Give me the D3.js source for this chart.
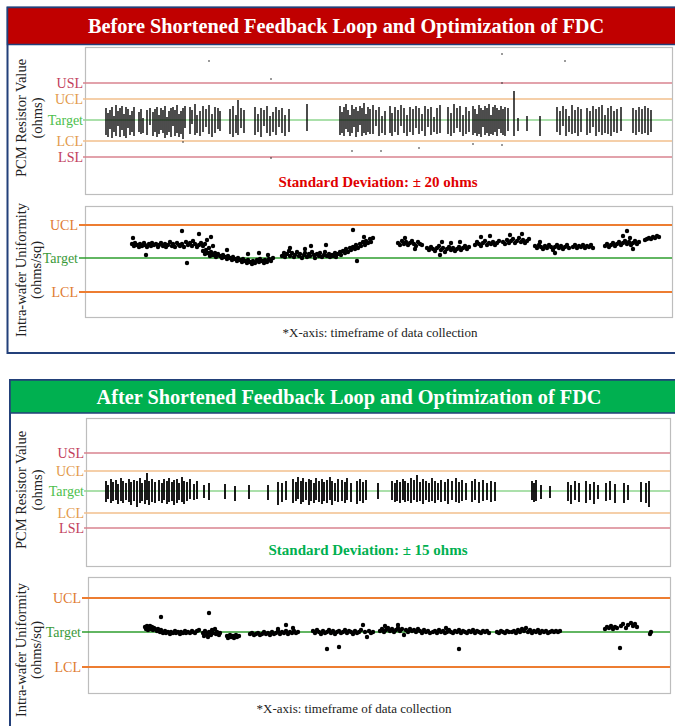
<!DOCTYPE html>
<html><head><meta charset="utf-8">
<script src="https://cdn.jsdelivr.net/npm/d3@7"></script>
<style>body{margin:0;background:#fff}svg{display:block}text{font-family:"Liberation Serif","Times New Roman",serif}</style>
</head><body><svg id="c" width="675" height="726"></svg>
<script>
// ---------- DATA ----------
const titles = ["Before Shortened Feedback Loop and Optimization of FDC","After Shortened Feedback Loop and Optimization of FDC"];
const stdTexts = ["Standard Deviation: \u00b1 20 ohms","Standard Deviation: \u00b1 15 ohms"];
const yTitlePCM = ["PCM Resistor Value","(ohms)"];
const yTitleUni = ["Intra-wafer Uniformity","(ohms/sq)"];
const footnote = "*X-axis: timeframe of data collection";
const pcmLimitLabels = ["USL","UCL","Target","LCL","LSL"];
const uniLimitLabels = ["UCL","Target","LCL"];
// limit values (offset from target)
const pcmLimitsBefore = [37, 21, 0, -21, -37];
const pcmLimitsAfter = [38, 20, 0, -22, -37];
const uniLimitsBefore = [33, 0, -34];
const uniLimitsAfter = [34, 0, -35];
// PCM resistor: [sample, high, low]
const pcmBefore = [
[21,12,-15],[23,7,-17],[25,10,-9],[27,13,-18],[29,4,-12],[31,15,-16],[33,9,-6],[35,12,-17],[37,14,-10],[39,6,-16],[41,13,-18],[43,11,-8],[45,5,-15],[47,9,-12],[49,13,-16],
[54,8,-12],[56,11,-14],[58,2,-13],[62,10,-15],[65,12,-5],[68,8,-16],[70,11,-12],
[72,13,-17],[74,5,-14],[76,12,-10],[78,10,-13],[80,14,-18],[82,3,-15],[84,9,-12],[86,12,-17],[88,13,-6],[90,10,-16],[92,15,-13],[94,6,-17],[96,9,-14],[98,12,-19],[100,14,-8],
[105,13,-14],[107,10,-4],[110,16,-15],[112,5,-13],[115,9,-16],[118,14,-12],[121,11,-7],[124,15,-14],[127,6,-17],[130,13,-13],[133,12,-9],[135,9,-11],
[145,11,-14],[148,14,-17],[151,5,-13],[153,20,-15],[156,12,-8],[159,10,-13],
[170,13,-15],[173,6,-12],[176,12,-17],[179,10,-6],[182,14,-13],[185,4,-16],[188,8,-12],[191,13,-15],[194,10,-7],[197,12,-13],[200,5,-16],[204,11,-12],
[222,16,-11],
[255,14,-15],[257,8,-13],[259,13,-16],[261,16,-9],[263,10,-12],[265,5,-16],[267,15,-13],[269,11,-7],[271,13,-17],[273,9,-12],[275,14,-5],[277,12,-16],[279,17,-13],[281,6,-15],[283,13,-12],[285,11,-14],
[288,15,-14],[291,10,-6],[294,13,-16],[297,4,-13],[300,9,-15],
[305,14,-13],[307,7,-16],[310,13,-12],[313,10,-15],[316,15,-6],[319,12,-13],[322,5,-16],[325,13,-12],[328,11,-15],[331,14,-8],
[334,12,-14],[337,6,-11],[340,14,-16],[343,11,-7],[346,13,-15],[349,3,-12],[352,12,-14],[355,15,-13],
[363,13,-14],[366,7,-16],[369,16,-13],[372,12,-8],[375,14,-12],[378,5,-16],[381,13,-14],[384,9,-12],
[388,14,-15],[390,11,-13],[392,6,-16],[394,15,-14],[396,12,-17],[398,10,-7],[400,14,-15],[402,12,-13],[404,16,-16],[406,5,-14],[408,13,-15],[410,15,-12],[412,12,-16],[414,10,-9],[416,14,-13],[418,11,-15],[420,13,-16],[423,12,-11],
[429,29,-16],[433,2,-11],[442,4,-11],[455,4,-16],
[472,13,-12],[475,9,-15],[478,14,-6],[481,11,-16],[484,4,-12],[487,15,-14],[490,10,-13],[493,13,-16],[496,11,-12],
[502,12,-15],[505,9,-13],[508,14,-7],[511,11,-16],[514,13,-12],[517,15,-15],[520,5,-13],[523,12,-14],[526,14,-16],[529,9,-12],[532,11,-13],[536,13,-11],
[548,12,-13],[551,10,-15],[554,13,-12],[557,11,-14],[560,14,-13],[563,12,-15],[566,10,-12]
];
const pcmBeforeOutliers = [[124,59],[186,41],[98,-22],[186,-38],[417,66],[480,59],[417,37],[267,-31],[296,-31],[334,-28],[388,-24],[417,-25]];
const pcmAfter = [
[21,10,-11],[23,6,-8],[26,12,-12],[28,9,-10],[31,11,-9],[33,7,-13],[36,13,-10],[38,10,-12],[41,8,-9],[44,12,-11],[46,9,-14],[49,11,-10],[52,10,-16],[55,13,-12],[57,8,-10],[60,11,-13],[62,18,-9],[64,10,-14],[67,12,-11],[70,9,-12],
[74,11,-10],[77,8,-12],[79,12,-9],[82,10,-13],[84,13,-11],[87,9,-10],[89,11,-14],[92,12,-12],[94,8,-9],[97,14,-11],[99,10,-13],[102,9,-10],[105,12,-8],[109,7,-9],[112,10,-8],
[119,6,-7],[124,8,-9],[140,7,-8],[150,5,-10],[164,6,-8],
[183,6,-9],[193,9,-14],[197,8,-11],[201,10,-9],
[208,12,-12],[211,9,-10],[213,14,-8],[216,10,-13],[218,13,-11],[221,9,-9],[224,12,-14],[226,11,-10],[229,8,-12],[231,13,-9],[234,10,-11],[237,12,-13],[239,9,-10],[242,11,-12],[245,14,-9],[247,10,-14],[250,8,-10],[253,12,-11],
[257,11,-10],[260,9,-12],[262,13,-9],[266,8,-11],[272,10,-13],[275,12,-10],[278,9,-12],[281,11,-9],[293,8,-8],
[307,10,-9],[310,8,-11],[312,11,-10],[315,9,-12],[318,12,-9],[320,10,-11],[323,8,-10],[326,13,-12],[329,11,-9],[332,16,-11],[335,9,-10],[338,12,-13],[341,10,-9],[344,8,-11],
[347,13,-10],[350,10,-12],[353,8,-9],[356,11,-11],[360,9,-10],[363,12,-13],[367,10,-9],[371,13,-11],[374,9,-12],[377,11,-10],[381,8,-9],
[387,10,-11],[390,12,-9],[394,9,-12],[398,11,-10],[402,8,-9],[406,10,-11],[410,9,-10],
[447,10,-9],[449,8,-11],[451,11,-10],[456,6,-8],[465,5,-7],
[483,9,-10],[486,6,-13],[490,10,-9],[494,8,-11],
[501,10,-12],[505,7,-9],[509,9,-13],[513,6,-8],
[521,8,-10],[525,10,-9],[530,7,-12],[539,8,-12],[543,6,-9],
[556,9,-11],[561,8,-12],[564,10,-16]
];
// Intra-wafer uniformity: [sample, value]
const uniBefore = [
[47,14],[49,12],[50,15],[52,13],[54,11],[55,14],[57,12],[59,15],[60,13],[62,11],[64,14],[66,12],[67,15],[69,13],[71,14],[73,11],[74,13],[76,15],[78,12],[80,14],[81,11],[83,13],[85,16],[87,12],[88,14],[90,11],[92,15],[94,13],[95,12],[97,14],[99,11],[101,16],[103,13],[105,15],[107,12],[108,17],[110,14],[112,11],[114,13],[116,15],[118,12],
[48,20],[61,3],[97,27],[102,-5],[114,24],[126,21],[122,18],[120,14],[124,10],
[118,7],[120,4],[121,8],[123,5],[125,2],[126,6],[128,3],[130,5],[131,1],[133,4],[135,2],[137,0],[138,3],[140,1],[142,-1],[143,2],[145,0],[147,-2],[148,1],[150,-1],[152,-3],[153,0],[155,-2],[157,-4],[158,-1],[160,-3],[162,-5],[163,-2],[165,-4],[167,-6],[168,-3],[170,-5],[172,-2],[174,-4],[175,-1],[177,-3],[179,-5],[180,-2],[182,-4],[184,-1],[186,-3],[188,0],
[128,12],[142,8],[163,4],[174,5],[183,3],
[197,2],[199,5],[200,1],[202,4],[204,7],[205,2],[207,5],[209,1],[210,3],[212,6],[214,2],[215,4],[217,0],[219,3],[220,5],[222,1],[224,4],[225,2],[227,6],[229,3],[230,0],[232,4],[234,2],[235,5],[237,1],[239,3],[240,6],[242,2],[244,4],[245,1],[247,3],
[205,10],[226,12],[241,13],[220,9],
[248,2],[250,5],[251,1],[253,4],[255,6],[256,3],[258,7],[260,5],[261,9],[263,6],[265,10],[266,8],[268,11],[270,9],[271,13],[273,10],[275,14],[276,12],[278,16],[280,13],[281,17],[283,15],[285,19],[286,16],[288,20],
[268,28],[272,-3],[279,21],
[313,15],[315,13],[317,17],[319,14],[321,16],[323,13],[325,15],[327,17],[329,14],[331,12],[333,16],[335,14],[337,13],[320,20],[330,9],
[342,10],[344,8],[346,11],[348,9],[350,7],[352,10],[354,12],[356,8],[358,10],[360,6],[362,9],[364,11],[366,8],[368,10],[370,7],[372,9],[374,11],[376,8],[378,10],[380,12],[382,9],[384,11],
[357,16],[366,15],[375,16],[355,3],
[390,13],[392,16],[394,14],[396,12],[398,15],[400,17],[402,13],[404,15],[406,14],[408,16],[410,13],[412,15],[414,17],[396,21],[405,22],
[418,16],[420,14],[422,18],[424,15],[426,17],[428,19],[430,15],[432,17],[434,20],[436,16],[438,18],[440,15],[442,17],[444,19],[425,23],[437,24],
[450,12],[452,10],[454,13],[456,11],[458,9],[460,12],[462,10],[464,13],[466,11],[468,8],[470,11],[472,13],[474,10],[476,12],[478,9],[480,11],[482,13],[484,10],[455,16],[470,5],
[488,11],[490,13],[492,10],[494,12],[496,11],[498,13],[500,10],[502,12],[504,11],[506,13],[508,10],
[520,12],[522,14],[524,11],[526,13],[528,15],[530,12],[532,14],[534,16],[536,13],[538,15],[540,17],[542,14],[544,16],[546,13],[548,15],[550,17],[552,14],[554,16],
[538,22],[542,27],[548,9],[545,20],
[560,18],[562,19],[564,20],[566,19],[568,21],[570,20],[572,22],[574,21]
];
const uniAfter = [
[60,5],[61,3],[62,6],[63,2],[64,4],[65,6],[66,3],[67,5],[68,2],[69,4],[70,3],[72,1],[73,3],[75,0],[76,2],[78,-1],[80,1],[81,-1],[83,0],[85,-2],[86,0],[88,-1],[90,1],[91,-1],[93,0],[95,-2],[96,0],[98,-1],[100,1],[101,-1],[103,0],[105,-1],[107,1],[108,0],[110,-1],[112,1],[114,2],
[76,15],[124,19],
[118,-1],[119,-4],[120,1],[122,-2],[123,-5],[124,0],[126,-3],[127,2],[128,-1],[130,3],[131,-2],[132,0],[134,-3],[135,-1],
[142,-4],[143,-6],[145,-3],[146,-5],[148,-4],[149,-6],[151,-3],[152,-5],[154,-4],
[165,-2],[167,-1],[169,-3],[171,-2],[173,-1],[175,-3],[177,-2],[179,0],[181,-2],[183,-1],[185,-3],[187,0],[189,-2],[191,-1],[193,1],[195,-2],[197,0],[199,-1],[201,1],[203,-2],[205,0],[207,-1],[209,1],[211,-1],[213,0],
[201,7],[193,3],[208,4],
[228,1],[230,-1],[232,2],[234,0],[236,-2],[238,1],[240,-1],[242,0],[244,2],[246,-1],[248,1],[250,-2],[252,0],[254,1],[256,-1],[258,0],[260,2],[262,-1],[264,1],[266,0],[268,-2],[270,1],[272,-1],[274,0],[276,2],[278,7],[280,0],[282,-5],[284,1],[286,-1],[288,0],
[242,-17],[254,-15],
[295,1],[297,3],[299,0],[301,2],[303,4],[305,1],[307,3],[309,0],[311,2],[313,4],[315,1],[317,3],[319,-3],[321,2],[323,0],[325,3],[327,1],[329,2],[331,0],[333,3],[335,1],[337,-1],[339,2],[341,0],[343,1],[345,-1],
[300,6],[313,7],
[348,0],[350,1],[352,-1],[354,2],[356,0],[358,1],[360,-1],[362,0],[364,2],[366,0],[368,-1],[370,1],[372,0],[374,2],[376,-1],[378,1],[380,0],[382,-1],[384,1],[386,0],[388,2],[390,-1],[392,1],[394,0],[396,-1],[398,1],[400,0],[402,1],[404,-1],
[374,-17],[361,4],
[412,0],[414,-1],[416,1],[418,0],[420,-1],[422,1],[424,0],
[427,0],[429,1],[431,-1],[433,2],[435,0],[437,3],[439,1],[441,4],[443,0],[445,2],[447,-1],[449,1],[451,0],[453,2],[455,-1],[457,1],[459,0],[461,1],[463,-1],[465,0],[467,1],[469,0],[471,1],[473,0],[475,1],
[520,3],[522,5],[524,4],[526,6],[528,3],[530,5],[532,4],[536,6],[538,8],[541,4],[543,7],[546,9],[548,6],[550,8],[552,5],
[565,-2],[566,0],[535,-16]
];

// ---------- DRAW ----------
const svg = d3.select("#c");
const navy = "#23407a";
const x = d3.scaleLinear().domain([0,584]).range([85,669]);

function panelFrame(y0, y1, x0, color, title, tx, ty){
  svg.append("rect").attr("x",x0).attr("y",y0).attr("width",675-x0+2).attr("height",y1-y0)
    .attr("fill","#fff").attr("stroke",navy).attr("stroke-width",2);
  svg.append("rect").attr("x",x0).attr("y",y0).attr("width",675-x0+2).attr("height",ty)
    .attr("fill",color).attr("stroke",navy).attr("stroke-width",1.5);
  svg.append("text").attr("x",tx).attr("y",y0+ty/2+7).attr("text-anchor","middle")
    .attr("fill","#fff").attr("font-weight","bold").attr("font-size",20.3).text(title);
}
panelFrame(7.5, 353, 7.5, "#c00000", titles[0], 346, 37);
panelFrame(380, 740, 10, "#00b050", titles[1], 349, 33);

function yTitle(lines, cy, x1, x2){
  svg.append("text").attr("transform",`translate(${x1},${cy}) rotate(-90)`).attr("text-anchor","middle")
    .attr("font-size",14.5).attr("fill","#222").text(lines[0]);
  svg.append("text").attr("transform",`translate(${x2},${cy}) rotate(-90)`).attr("text-anchor","middle")
    .attr("font-size",14.5).attr("fill","#222").text(lines[1]);
}

function box(b){
  svg.append("rect").attr("x",b.l+0.5).attr("y",b.t+0.5).attr("width",b.r-b.l).attr("height",b.b-b.t)
    .attr("fill","#fff").attr("stroke","#bdbdbd").attr("stroke-width",1.2);
}

const pcmLineColors = ["#d9838f","#f2bf8c","#8fd68f","#f2bf8c","#d9838f"];
const pcmLabelColors = ["#c2405c","#e39a4c","#4cc04c","#e39a4c","#c2405c"];
function pcmPanel(b, dom, limits, bars, outliers, sw){
  box(b);
  const y = d3.scaleLinear().domain(dom).range([b.b,b.t]);
  const g = svg.append("g");
  limits.forEach((v,i)=>{
    g.append("line").attr("x1",b.l-2).attr("x2",b.r).attr("y1",y(v)).attr("y2",y(v))
      .attr("stroke",pcmLineColors[i]).attr("stroke-width",1.6);
    g.append("text").attr("x",b.l-2).attr("y",y(v)+5).attr("text-anchor","end").attr("font-size",14)
      .attr("fill",pcmLabelColors[i]).text(pcmLimitLabels[i]);
  });
  g.selectAll("line.bar").data(bars).join("line").attr("class","bar")
    .attr("x1",d=>x(d[0])).attr("x2",d=>x(d[0])).attr("y1",d=>y(d[1])).attr("y2",d=>y(d[2]))
    .attr("stroke","#000").attr("stroke-width",sw);
  if(outliers) g.selectAll("rect.o").data(outliers).join("rect").attr("class","o")
    .attr("x",d=>x(d[0])-0.7).attr("y",d=>y(d[1])-0.7).attr("width",1.4).attr("height",1.4).attr("fill","#333");
  return y;
}
function uniPanel(b, dom, limits, pts){
  box(b);
  const y = d3.scaleLinear().domain(dom).range([b.b,b.t]);
  const g = svg.append("g");
  const lc = ["#ed7d31","#2e9e2e","#ed7d31"];
  const tc = ["#e07a30","#3a9a3a","#e07a30"];
  limits.forEach((v,i)=>{
    g.append("line").attr("x1",b.l-6).attr("x2",b.r).attr("y1",y(v)).attr("y2",y(v))
      .attr("stroke",lc[i]).attr("stroke-width",i===1?1.5:2);
    g.append("text").attr("x",b.l-7).attr("y",y(v)+5).attr("text-anchor","end").attr("font-size",14)
      .attr("fill",tc[i]).text(uniLimitLabels[i]);
  });
  g.selectAll("circle").data(pts).join("circle")
    .attr("cx",d=>x(d[0])).attr("cy",d=>y(d[1])).attr("r",2.2).attr("fill","#000");
}

// Before
const b1 = {l:85,t:47,r:672,b:194};
pcmPanel(b1, [-74,73], pcmLimitsBefore, pcmBefore, pcmBeforeOutliers, 1.4);
svg.append("text").attr("x",378).attr("y",187).attr("text-anchor","middle").attr("font-size",15)
  .attr("font-weight","bold").attr("fill","#e00000").text(stdTexts[0]);
yTitle(yTitlePCM, 118, 26, 42);
const b2 = {l:85,t:206,r:672,b:317};
uniPanel(b2, [-59,52], uniLimitsBefore, uniBefore);
yTitle(yTitleUni, 270, 26, 41);
svg.append("text").attr("x",380).attr("y",337).attr("text-anchor","middle").attr("font-size",13)
  .attr("fill","#222").text(footnote);

// After
const b3 = {l:86,t:418,r:670,b:566};
pcmPanel(b3, [-75,73], pcmLimitsAfter, pcmAfter, null, 1.8);
svg.append("text").attr("x",368).attr("y",555).attr("text-anchor","middle").attr("font-size",15)
  .attr("font-weight","bold").attr("fill","#00b050").text(stdTexts[1]);
yTitle(yTitlePCM, 490, 26, 42);
const b4 = {l:88,t:577,r:670,b:693};
uniPanel(b4, [-61,55], uniLimitsAfter, uniAfter);
yTitle(yTitleUni, 650, 26, 41);
svg.append("text").attr("x",354).attr("y",713).attr("text-anchor","middle").attr("font-size",13)
  .attr("fill","#222").text(footnote);
</script></body></html>
